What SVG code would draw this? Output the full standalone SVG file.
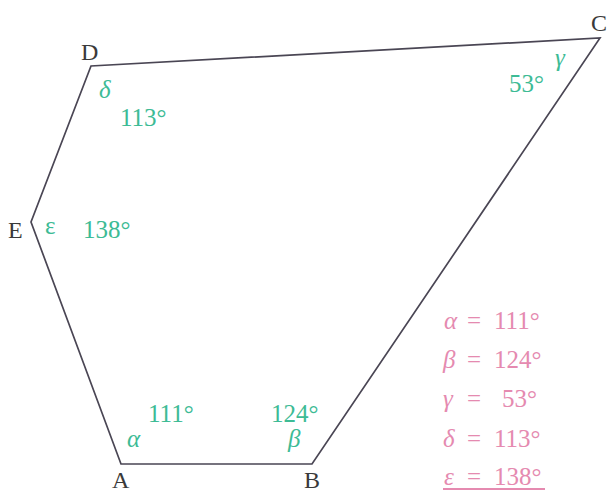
<svg xmlns="http://www.w3.org/2000/svg" width="608" height="492" viewBox="0 0 608 492">
<style>
.lbl{font-family:"Liberation Serif",serif;font-size:24px;fill:#3a3a3a}
.g{font-family:"Liberation Serif",serif;font-size:25px;fill:#3dbb95}
.gi{font-family:"Liberation Serif",serif;font-size:25px;fill:#3dbb95;font-style:italic}
.p{font-family:"Liberation Serif",serif;font-size:25px;fill:#e58ab0}
.pi{font-style:italic}
.edge{fill:none;stroke:#4a4654;stroke-width:1.7;stroke-linejoin:miter}
</style>
<rect width="608" height="492" fill="#ffffff"/>
<g id="connectors">
<polygon class="edge" points="121,464 312,464 600,38 91,66 31,222"/>
</g>
<g id="A"><text class="lbl" x="112" y="488">A</text><text class="gi" x="127" y="447">α</text><text class="g" x="148" y="422">111°</text></g>
<g id="B"><text class="lbl" x="304" y="488">B</text><text class="gi" x="288" y="447">β</text><text class="g" x="271" y="422">124°</text></g>
<g id="C"><text class="lbl" x="591" y="31">C</text><text class="gi" x="555" y="66">γ</text><text class="g" x="509" y="92">53°</text></g>
<g id="D"><text class="lbl" x="81" y="60">D</text><text class="gi" x="99" y="98">δ</text><text class="g" x="120" y="126">113°</text></g>
<g id="E"><text class="lbl" x="8" y="238">E</text><text class="g" x="45" y="234">ε</text><text class="g" x="83" y="238">138°</text></g>
<g id="summary">
<text class="p" y="329"><tspan class="pi" x="444">α</tspan><tspan x="467">=</tspan><tspan x="494">111°</tspan></text>
<text class="p" y="368"><tspan class="pi" x="443">β</tspan><tspan x="467">=</tspan><tspan x="494">124°</tspan></text>
<text class="p" y="407"><tspan class="pi" x="443">γ</tspan><tspan x="467">=</tspan><tspan x="502">53°</tspan></text>
<text class="p" y="447"><tspan class="pi" x="443">δ</tspan><tspan x="467">=</tspan><tspan x="494">113°</tspan></text>
<text class="p" y="485"><tspan class="pi" x="444">ε</tspan><tspan x="467">=</tspan><tspan x="494">138°</tspan></text>
<line x1="443" y1="489" x2="545" y2="489" stroke="#e58ab0" stroke-width="2"/>
</g>
</svg>
